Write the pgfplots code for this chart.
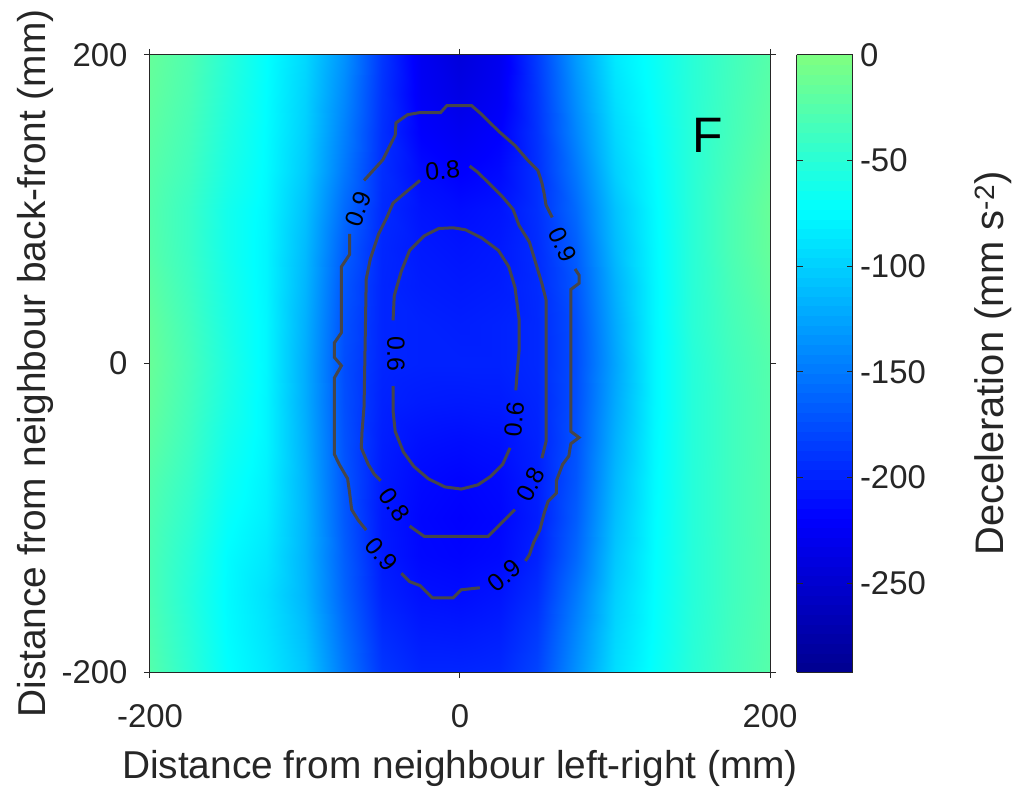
\documentclass[border=0pt]{standalone}
\usepackage{fontspec}
\setmainfont{Liberation Sans}
\usepackage{pgfplots}
\usepackage{pgfplotstable}
\pgfplotsset{compat=1.18}
\definecolor{AXC}{HTML}{262626}
\definecolor{CONT}{HTML}{46464A}

% deceleration field, mm s^-2 (x varies fastest)
\pgfplotstableread{
x y z
-200 -200 -25
-175 -200 -48
-150 -200 -72
-125 -200 -85
-100 -200 -105
-75 -200 -150
-50 -200 -188
-25 -200 -198
0 -200 -198
25 -200 -196
50 -200 -180
75 -200 -136
100 -200 -92
125 -200 -70
150 -200 -50
175 -200 -35
200 -200 -24
-200 -175 -28
-175 -175 -50
-150 -175 -74
-125 -175 -88
-100 -175 -110
-75 -175 -156
-50 -175 -194
-25 -175 -204
0 -175 -205
25 -175 -202
50 -175 -186
75 -175 -142
100 -175 -96
125 -175 -72
150 -175 -51
175 -175 -36
200 -175 -25
-200 -150 -30
-175 -150 -52
-150 -150 -75
-125 -150 -90
-100 -150 -115
-75 -150 -162
-50 -150 -200
-25 -150 -210
0 -150 -212
25 -150 -208
50 -150 -193
75 -150 -150
100 -150 -100
125 -150 -73
150 -150 -52
175 -150 -37
200 -150 -26
-200 -125 -30
-175 -125 -50
-150 -125 -74
-125 -125 -86
-100 -125 -116
-75 -125 -165
-50 -125 -204
-25 -125 -215
0 -125 -217
25 -125 -214
50 -125 -200
75 -125 -160
100 -125 -105
125 -125 -74
150 -125 -52
175 -125 -37
200 -125 -26
-200 -100 -28
-175 -100 -46
-150 -100 -70
-125 -100 -82
-100 -100 -115
-75 -100 -168
-50 -100 -205
-25 -100 -216
0 -100 -219
25 -100 -216
50 -100 -203
75 -100 -166
100 -100 -110
125 -100 -75
150 -100 -52
175 -100 -37
200 -100 -26
-200 -75 -25
-175 -75 -42
-150 -75 -66
-125 -75 -80
-100 -75 -116
-75 -75 -170
-50 -75 -204
-25 -75 -214
0 -75 -217
25 -75 -214
50 -75 -202
75 -75 -170
100 -75 -114
125 -75 -76
150 -75 -52
175 -75 -37
200 -75 -26
-200 -50 -20
-175 -50 -38
-150 -50 -62
-125 -50 -78
-100 -50 -118
-75 -50 -172
-50 -50 -202
-25 -50 -210
0 -50 -212
25 -50 -210
50 -50 -200
75 -50 -172
100 -50 -118
125 -50 -77
150 -50 -52
175 -50 -37
200 -50 -26
-200 -25 -16
-175 -25 -35
-150 -25 -58
-125 -25 -78
-100 -25 -120
-75 -25 -174
-50 -25 -200
-25 -25 -204
0 -25 -205
25 -25 -204
50 -25 -198
75 -25 -174
100 -25 -122
125 -25 -78
150 -25 -52
175 -25 -37
200 -25 -26
-200 0 -14
-175 0 -33
-150 0 -56
-125 0 -77
-100 0 -120
-75 0 -175
-50 0 -198
-25 0 -200
0 0 -200
25 0 -200
50 0 -196
75 0 -175
100 0 -125
125 0 -78
150 0 -52
175 0 -36
200 0 -25
-200 25 -16
-175 25 -35
-150 25 -58
-125 25 -77
-100 25 -118
-75 25 -173
-50 25 -198
-25 25 -200
0 25 -202
25 25 -200
50 25 -196
75 25 -174
100 25 -122
125 25 -78
150 25 -50
175 25 -34
200 25 -22
-200 50 -20
-175 50 -38
-150 50 -60
-125 50 -78
-100 50 -115
-75 50 -170
-50 50 -198
-25 50 -203
0 50 -205
25 50 -203
50 50 -195
75 50 -170
100 50 -118
125 50 -78
150 50 -50
175 50 -32
200 50 -18
-200 75 -24
-175 75 -40
-150 75 -62
-125 75 -78
-100 75 -112
-75 75 -165
-50 75 -197
-25 75 -205
0 75 -208
25 75 -205
50 75 -194
75 75 -165
100 75 -112
125 75 -77
150 75 -50
175 75 -30
200 75 -15
-200 100 -25
-175 100 -40
-150 100 -62
-125 100 -77
-100 100 -108
-75 100 -158
-50 100 -195
-25 100 -208
0 100 -212
25 100 -208
50 100 -192
75 100 -158
100 100 -108
125 100 -76
150 100 -50
175 100 -30
200 100 -14
-200 125 -23
-175 125 -36
-150 125 -58
-125 125 -75
-100 125 -103
-75 125 -150
-50 125 -193
-25 125 -213
0 125 -220
25 125 -214
50 125 -192
75 125 -150
100 125 -100
125 125 -74
150 125 -50
175 125 -32
200 125 -17
-200 150 -20
-175 150 -33
-150 150 -55
-125 150 -74
-100 150 -100
-75 150 -145
-50 150 -192
-25 150 -220
0 150 -228
25 150 -220
50 150 -190
75 150 -142
100 150 -95
125 150 -72
150 150 -50
175 150 -34
200 150 -20
-200 175 -17
-175 175 -30
-150 175 -52
-125 175 -73
-100 175 -98
-75 175 -140
-50 175 -190
-25 175 -225
0 175 -236
25 175 -226
50 175 -188
75 175 -136
100 175 -90
125 175 -70
150 175 -50
175 175 -35
200 175 -22
-200 200 -15
-175 200 -28
-150 200 -50
-125 200 -72
-100 200 -95
-75 200 -135
-50 200 -188
-25 200 -228
0 200 -242
25 200 -230
50 200 -185
75 200 -130
100 200 -85
125 200 -68
150 200 -50
175 200 -36
200 200 -24
}\decel

\begin{document}
\begin{tikzpicture}
\useasboundingbox (-150bp,-115bp) rectangle (865bp,672bp);
\begin{axis}[
  at={(0,0)}, anchor=south west,
  scale only axis, width=620bp, height=617bp,
  xmin=-200, xmax=200, ymin=-200, ymax=200,
  xtick={-200,0,200}, ytick={-200,0,200},
  tick align=outside, major tick length=6bp,
  tick style={AXC, line width=1bp},
  axis line style={AXC, line width=1bp},
  axis on top,
  /pgf/number format/assume math mode=true,
  tick label style={font=\fontsize{33}{36}\selectfont, text=AXC},
  xticklabel style={yshift=-23bp},
  yticklabel style={xshift=-13bp},
  every axis x label/.style={at={(axis description cs:0.5,-0.172)}, anchor=base, font=\fontsize{39}{43}\selectfont, text=AXC},
  every axis y label/.style={at={(axis description cs:-0.169,0.5)}, rotate=90, anchor=base, font=\fontsize{39}{43}\selectfont, text=AXC},
  xlabel={Distance from neighbour left-right (mm)},
  ylabel={Distance from neighbour back-front (mm)},
  colormap={jethalf}{rgb255(0)=(0,0,143); rgb255(2)=(0,0,255); rgb255(6)=(0,255,255); rgb255(8)=(128,255,128)},
  point meta min=-292, point meta max=0,
  colorbar sampled,
  colorbar style={
    at={(parent axis.north east)}, anchor=north west, xshift=18bp,
    width=56bp, scale only axis, samples=65,
    ytick={-250,-200,-150,-100,-50,0},
    tick align=inside, major tick length=6bp,
    tick style={AXC, line width=1bp},
    axis line style={AXC, line width=1bp},
    /pgf/number format/assume math mode=true,
    yticklabel style={font=\fontsize{33}{36}\selectfont, text=AXC, xshift=4bp},
    every axis y label/.style={at={(axis description cs:3.70,0.5)}, rotate=90, anchor=base, font=\fontsize{40}{44}\selectfont, text=AXC},
    ylabel={Deceleration (mm s\textsuperscript{-2})},
  },
  clip=false,
]
\addplot[surf, shader=interp, mesh/cols=17, point meta=explicit] table[x=x, y=y, meta=z] {\decel};

% contour 0.9
\addplot[CONT, line width=3bp] coordinates {
  (-61.9,118.7) (-49.8,132.0) (-45.8,140.0) (-41.8,148.0) (-41.3,156.0) (-33.8,161.3)
  (-25.8,162.7) (-12.5,162.7) (-8.5,167.2) (7.5,167.2) (14.2,161.3) (24.8,150.7)
  (35.5,141.3) (43.5,132.0) (50.2,125.3) (52.8,117.3) (54.2,110.7) (55.5,102.7) (59.5,94.7)
};
\addplot[CONT, line width=3bp] coordinates {
  (74.2,61.3) (76.8,57.3) (76.8,52.0) (71.5,48.0) (71.5,-44.0) (76.8,-48.0) (71.5,-52.0)
  (70.2,-60.0) (66.2,-65.4) (62.2,-76.0) (62.2,-84.0) (56.8,-89.4) (54.2,-97.4)
  (51.5,-108.0) (47.5,-116.0) (44.8,-124.0) (42.2,-128.0)
};
\addplot[CONT, line width=3bp] coordinates {
  (12.8,-145.4) (0.8,-146.7) (-4.5,-152.0) (-17.8,-152.0) (-25.8,-144.0) (-32.5,-141.4) (-37.8,-136.0)
};
\addplot[CONT, line width=3bp] coordinates {
  (-60.5,-108.0) (-65.8,-101.4) (-69.9,-94.7) (-71.2,-84.0) (-72.5,-74.7) (-77.9,-65.4)
  (-81.1,-58.7) (-81.1,-9.4) (-76.5,-1.4) (-81.1,4.0) (-81.1,13.3) (-76.5,20.0)
  (-76.5,62.7) (-71.2,70.7) (-71.2,84.0)
};
% contour 0.8
\addplot[CONT, line width=3bp] coordinates {
  (6.2,128.0) (11.5,124.0) (19.5,116.0) (27.5,108.0) (34.2,100.0) (38.2,89.3) (44.8,78.7)
  (48.8,65.3) (52.8,52.0) (55.5,41.3) (55.5,-50.7) (52.8,-61.4)
};
\addplot[CONT, line width=3bp] coordinates {
  (35.5,-94.7) (27.5,-102.7) (18.2,-112.0) (-23.2,-112.0) (-32.5,-105.4)
};
\addplot[CONT, line width=3bp] coordinates {
  (-51.2,-76.0) (-55.2,-72.0) (-59.2,-65.4) (-63.7,-54.7) (-63.2,-44.0) (-61.9,-28.0)
  (-60.5,54.7) (-57.8,68.0) (-52.5,84.0) (-47.2,94.7) (-43.2,104.0) (-33.8,112.0) (-25.8,118.7)
};
% contour 0.6
\addplot[CONT, line width=3bp] coordinates {
  (-43.2,28.0) (-42.4,44.0) (-37.8,60.0) (-32.5,73.3) (-23.2,82.7) (-13.8,87.5) (-4.5,88.0)
  (3.5,86.7) (14.2,81.3) (24.8,73.3) (31.5,62.7) (35.5,49.3) (38.2,28.0) (38.2,9.3)
  (36.8,-6.7) (36.0,-17.4)
};
\addplot[CONT, line width=3bp] coordinates {
  (32.3,-54.7) (27.5,-65.4) (19.5,-73.4) (11.5,-78.7) (0.8,-81.4) (-9.8,-80.0) (-20.5,-74.7)
  (-29.8,-66.7) (-36.5,-57.4) (-41.8,-44.0) (-43.2,-30.7) (-43.2,-14.7)
};

\begin{scope}[every node/.style={font=\fontsize{25}{27}\selectfont, text=black, inner sep=0pt}]
\node[rotate=70] at (axis cs:-65.8,100.0) {0.9};
\node[rotate=5] at (axis cs:-11.2,125.3) {0.8};
\node[rotate=-65] at (axis cs:66.2,77.3) {0.9};
\node[rotate=-90] at (axis cs:-41.3,6.1) {0.6};
\node[rotate=85] at (axis cs:35.0,-36.0) {0.6};
\node[rotate=-55] at (axis cs:-42.4,-91.5) {0.8};
\node[rotate=62] at (axis cs:45.6,-78.2) {0.8};
\node[rotate=-50] at (axis cs:-50.7,-123.5) {0.9};
\node[rotate=40] at (axis cs:28.8,-137.4) {0.9};
\end{scope}
\node[font=\fontsize{50}{54}\selectfont, text=black] at (axis cs:159.5,148) {F};
\end{axis}
\end{tikzpicture}
\end{document}
